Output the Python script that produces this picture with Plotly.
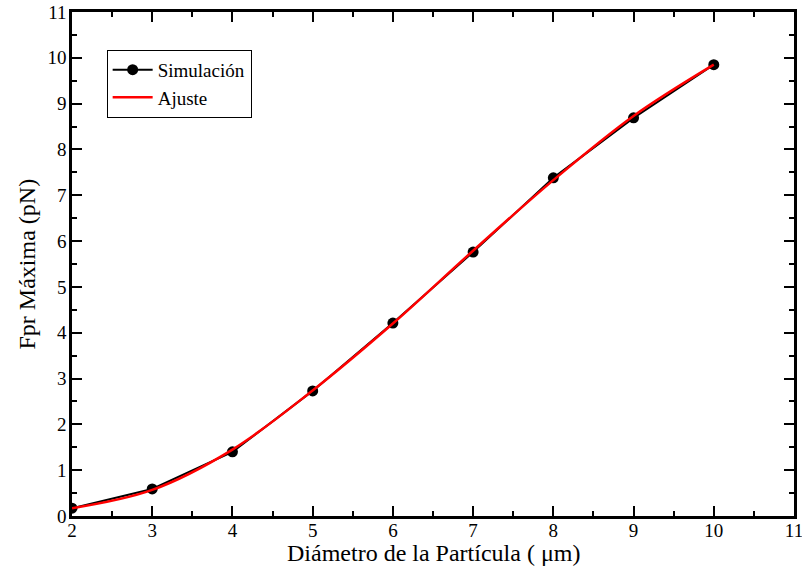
import plotly.graph_objects as go

diametro = [2, 3, 4, 5, 6, 7, 8, 9, 10]
fpr_sim = [0.17, 0.59, 1.40, 2.73, 4.21, 5.76, 7.38, 8.69, 9.85]
fpr_ajuste = [0.17, 0.57, 1.45, 2.74, 4.20, 5.79, 7.33, 8.73, 9.85]

x_title = "Diámetro de la Partícula ( μm)"
y_title = "Fpr Máxima (pN)"

FONT = "Liberation Serif, DejaVu Serif, serif"

fig = go.Figure()
fig.add_trace(go.Scatter(
    x=diametro, y=fpr_sim, mode="lines+markers", name="Simulación",
    line=dict(color="black", width=2),
    marker=dict(color="black", size=11),
))
fig.add_trace(go.Scatter(
    x=diametro, y=fpr_ajuste, mode="lines", name="Ajuste",
    line=dict(color="#ff0000", width=2.5, shape="spline"),
))

axis_common = dict(
    showline=True, linecolor="black", linewidth=2.5, mirror="allticks",
    ticks="inside", ticklen=10, tickwidth=2, tickcolor="black",
    showgrid=False, zeroline=False, automargin=False,
    ticklabeloverflow="allow",
    tickfont=dict(family=FONT, size=19, color="black"),
    minor=dict(ticks="inside", ticklen=5, tickwidth=1.5, tickcolor="black", dtick=0.5, showgrid=False),
)

fig.update_xaxes(range=[2, 11], dtick=1, tick0=0, ticklabelstandoff=-5, **axis_common)
fig.update_yaxes(range=[0, 11], dtick=1, tick0=0, ticklabelstandoff=-1, **axis_common)

fig.add_annotation(text=x_title, xref="paper", yref="paper", x=0.5, y=-0.074,
                   xanchor="center", yanchor="middle", showarrow=False,
                   font=dict(family=FONT, size=24, color="black"))
fig.add_annotation(text=y_title, xref="paper", yref="paper", x=-0.063, y=0.5,
                   xanchor="center", yanchor="middle", showarrow=False, textangle=-90,
                   font=dict(family=FONT, size=24, color="black"))

fig.update_layout(
    width=802, height=571,
    margin=dict(l=72, r=8, t=12, b=55),
    paper_bgcolor="white", plot_bgcolor="white",
    font=dict(family=FONT, color="black"),
    legend=dict(x=0.048, y=0.925, xanchor="left", yanchor="top",
                bgcolor="white", bordercolor="black", borderwidth=1,
                font=dict(family=FONT, size=19, color="black"),
                tracegroupgap=0, itemwidth=40),
    showlegend=True,
)

fig.write_html("out.html")
